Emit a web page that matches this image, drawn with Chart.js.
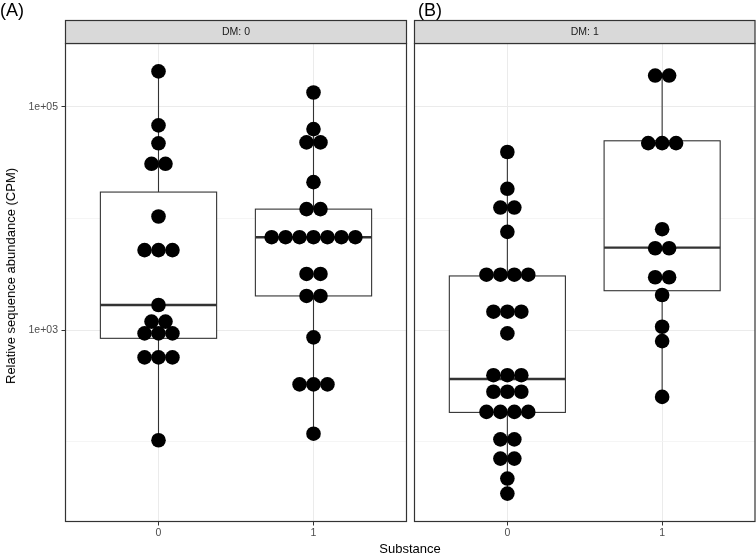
<!DOCTYPE html>
<html>
<head>
<meta charset="utf-8">
<script src="https://cdn.jsdelivr.net/npm/chart.js@4.4.1/dist/chart.umd.min.js"></script>
<style>
  html, body { margin: 0; padding: 0; background: #fff; }
  #wrap { position: relative; width: 756px; height: 555px; overflow: hidden; font-family: "Liberation Sans", Arial, Helvetica, sans-serif; }
  canvas { position: absolute; top: 0; }
  #c1 { left: 0; }
  #c2 { left: 410px; }
  .t { position: absolute; white-space: nowrap; color: #000; }
  #tagA { left: 0px; top: 0px; font-size: 18px; line-height: 21px; }
  #tagB { left: 418px; top: 0px; font-size: 18px; line-height: 21px; }
  #xtitle { left: 310px; width: 200px; text-align: center; top: 541px; font-size: 13px; line-height: 16px; }
  #ytitle { left: 11px; top: 276px; font-size: 13px; line-height: 16px; transform: translate(-50%, -50%) rotate(-90deg); }
</style>
</head>
<body>
<div id="wrap">
  <canvas id="c1" width="410" height="555"></canvas>
  <canvas id="c2" width="346" height="555"></canvas>
  <div class="t" id="tagA"></div>
  <div class="t" id="tagB"></div>
  <div class="t" id="xtitle"></div>
  <div class="t" id="ytitle"></div>
</div>
<script>
// ---------- data ----------
const facetLabels = ['DM: 0', 'DM: 1'];
const panelTags = ['(A)', '(B)'];
const substances = ['0', '1'];
const xTitle = 'Substance';
const yTitle = 'Relative sequence abundance (CPM)';
const yMajorTicks = [1e3, 1e5];
const yMinorTicks = [1e2, 1e4];

// individual samples (CPM), DM 0
const dm0Sub0 = [207000, 68000, 47000, 30800, 30800, 10400, 5200, 5200, 5200, 1675,
                 1190, 1190, 933, 933, 933, 569, 569, 569, 103];
const dm0Sub1 = [134000, 63000, 47900, 47900, 21100, 12100, 12100,
                 6780, 6780, 6780, 6780, 6780, 6780, 6780,
                 3180, 3180, 2020, 2020, 860, 326, 326, 326, 118];
// individual samples (CPM), DM 1
const dm1Sub0 = [39300, 18400, 12500, 12500, 7570, 3130, 3130, 3130, 3130,
                 1460, 1460, 1460, 933, 394, 394, 394, 280, 280, 280,
                 185, 185, 185, 185, 105, 105, 70.6, 70.6, 46.8, 34.3];
const dm1Sub1 = [190000, 190000, 47200, 47200, 47200, 8000, 5400, 5400,
                 2970, 2970, 2060, 1070, 796, 252];

// box statistics [lower whisker, Q1, median, Q3, upper whisker]
const dm0Box = [[103, 843, 1675, 17200, 207000], [118, 2020, 6780, 12100, 134000]];
const dm1Box = [[34.3, 183, 364, 3050, 39300], [252, 2250, 5470, 49500, 190000]];

const Y_MIN = 19.3, Y_MAX = 368000;

// ---------- rendering ----------
const FONT = '"Liberation Sans", Arial, Helvetica, sans-serif';
const DOT_STEP = 0.09;   // horizontal spacing of stacked dots (x data units)
const BOX_W = 0.75;

document.getElementById('tagA').textContent = panelTags[0];
document.getElementById('tagB').textContent = panelTags[1];
document.getElementById('xtitle').textContent = xTitle;
document.getElementById('ytitle').textContent = yTitle;

function dotPoints(groups) {
  const pts = [];
  groups.forEach((vals, g) => {
    const counts = {}, seen = {};
    vals.forEach(v => counts[v] = (counts[v] || 0) + 1);
    vals.forEach(v => {
      const n = counts[v];
      const i = seen[v] = (seen[v] === undefined ? 0 : seen[v] + 1);
      pts.push({ x: g + 1 + (i - (n - 1) / 2) * DOT_STEP, y: v });
    });
  });
  return pts;
}

function fmtSci(v) {
  const e = Math.round(Math.log10(v));
  return '1e' + (e >= 0 ? '+' : '-') + String(Math.abs(e)).padStart(2, '0');
}

const panelPlugin = {
  id: 'panelPlugin',
  beforeDatasetsDraw(chart, args, opts) {
    const ctx = chart.ctx, xs = chart.scales.x, ys = chart.scales.y;
    ctx.save();
    opts.boxes.forEach((b, g) => {
      const cx = xs.getPixelForValue(g + 1);
      const x0 = xs.getPixelForValue(g + 1 - BOX_W / 2);
      const x1 = xs.getPixelForValue(g + 1 + BOX_W / 2);
      const [lw, q1, md, q3, uw] = b.map(v => ys.getPixelForValue(v));
      ctx.strokeStyle = '#333333';
      ctx.lineWidth = 1.1;
      ctx.beginPath();
      ctx.moveTo(cx, lw); ctx.lineTo(cx, q1);
      ctx.moveTo(cx, q3); ctx.lineTo(cx, uw);
      ctx.stroke();
      ctx.fillStyle = '#ffffff';
      ctx.fillRect(x0, q3, x1 - x0, q1 - q3);
      ctx.strokeRect(x0, q3, x1 - x0, q1 - q3);
      ctx.lineWidth = 2.4;
      ctx.beginPath();
      ctx.moveTo(x0, md); ctx.lineTo(x1, md);
      ctx.stroke();
    });
    ctx.restore();
  },
  afterDraw(chart, args, opts) {
    const ctx = chart.ctx, a = chart.chartArea;
    ctx.save();
    ctx.strokeStyle = '#333333';
    ctx.lineWidth = 1.2;
    ctx.strokeRect(a.left, a.top, a.right - a.left, a.bottom - a.top);
    const sTop = 20.5;
    ctx.fillStyle = '#d9d9d9';
    ctx.fillRect(a.left, sTop, a.right - a.left, a.top - sTop);
    ctx.strokeRect(a.left, sTop, a.right - a.left, a.top - sTop);
    ctx.fillStyle = '#1a1a1a';
    ctx.font = '10.5px ' + FONT;
    ctx.textAlign = 'center';
    ctx.textBaseline = 'middle';
    ctx.fillText(opts.strip, (a.left + a.right) / 2, (sTop + a.top) / 2 + 0.5);
    ctx.restore();
  }
};

function makeChart(id, idx) {
  const groups = idx === 0 ? [dm0Sub0, dm0Sub1] : [dm1Sub0, dm1Sub1];
  const boxes = idx === 0 ? dm0Box : dm1Box;
  const showY = idx === 0;
  const yAxisW = idx === 0 ? 65.5 : 4.5;
  const rightPad = idx === 0 ? 3.5 : 1;
  return new Chart(document.getElementById(id), {
    type: 'scatter',
    data: {
      datasets: [{
        data: dotPoints(groups),
        pointRadius: 7.3,
        pointHoverRadius: 7.3,
        backgroundColor: '#000000',
        borderColor: '#000000',
        borderWidth: 0
      }]
    },
    options: {
      responsive: false,
      animation: false,
      devicePixelRatio: 1,
      layout: { autoPadding: false, padding: { top: 43.5, right: rightPad, bottom: 0, left: 0 } },
      plugins: {
        legend: { display: false },
        tooltip: { enabled: false },
        panelPlugin: { boxes: boxes, strip: facetLabels[idx] }
      },
      scales: {
        x: {
          type: 'linear',
          min: 0.4, max: 2.6,
          afterBuildTicks(scale) { scale.ticks = substances.map((s, i) => ({ value: i + 1 })); },
          afterFit(scale) { scale.height = 33.5; },
          border: { display: false },
          grid: { color: '#ebebeb', lineWidth: 1, tickLength: 4, tickColor: '#333333', tickWidth: 1 },
          ticks: {
            autoSkip: false, maxRotation: 0, padding: 1,
            color: '#4d4d4d', font: { family: FONT, size: 10.5 },
            callback: (v) => substances[Math.round(v) - 1]
          }
        },
        y: {
          type: 'logarithmic',
          min: Y_MIN, max: Y_MAX,
          afterBuildTicks(scale) {
            scale.ticks = yMinorTicks.concat(yMajorTicks).sort((a, b) => a - b).map(v => ({ value: v }));
          },
          afterFit(scale) { scale.width = yAxisW; },
          border: { display: false },
          grid: {
            drawTicks: showY,
            tickLength: 4,
            color: (c) => yMajorTicks.includes(c.tick && c.tick.value) ? '#ebebeb' : '#f2f2f2',
            lineWidth: (c) => yMajorTicks.includes(c.tick && c.tick.value) ? 1 : 0.8,
            tickColor: (c) => yMajorTicks.includes(c.tick && c.tick.value) ? '#333333' : 'rgba(0,0,0,0)',
            tickWidth: 1
          },
          ticks: {
            display: showY,
            autoSkip: false, padding: 3.5,
            color: '#4d4d4d', font: { family: FONT, size: 10.5 },
            callback: (v) => yMajorTicks.includes(v) ? fmtSci(v) : ''
          }
        }
      }
    },
    plugins: [panelPlugin]
  });
}

makeChart('c1', 0);
makeChart('c2', 1);
</script>
</body>
</html>
